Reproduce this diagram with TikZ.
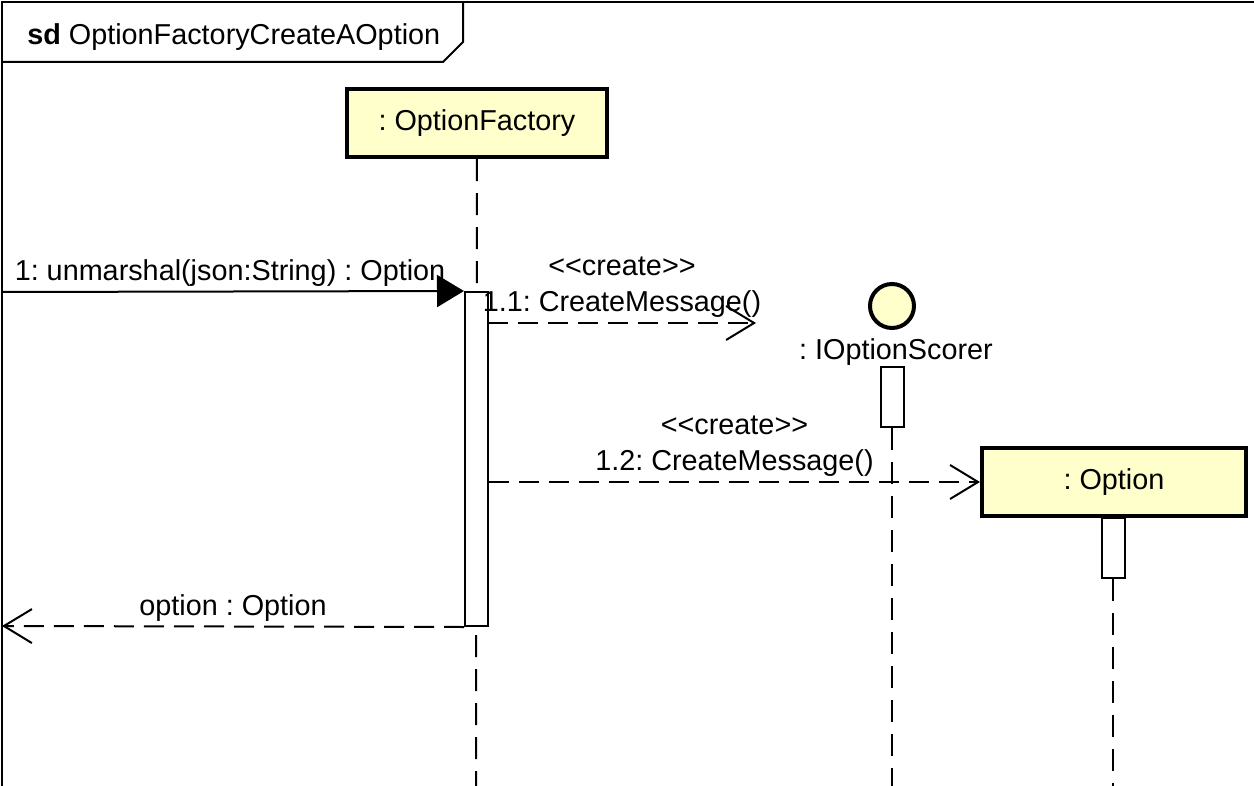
\documentclass[tikz,border=0pt]{standalone}
\usepackage{fontspec}
\setmainfont{Liberation Sans}
\usetikzlibrary{positioning,arrows.meta}
\definecolor{objfill}{RGB}{255,255,204}
\frenchspacing

\begin{document}
\begin{tikzpicture}[x=1bp,y=-1bp,line width=2bp,font=\fontsize{28.9}{34}\selectfont,
  obj/.style={draw,line width=4bp,fill=objfill,minimum width=260bp,minimum height=68bp},
  act/.style={draw,fill=white,minimum width=23bp,inner sep=0pt},
  life/.style={dash pattern=on 22bp off 12bp},
  call/.style={-{Triangle[length=27bp,width=32bp]}},
  reply/.style={dash pattern=on 20bp off 10bp,-{Straight Barb[length=28bp,width=34bp]}}]
  \useasboundingbox (0,0) rectangle (1254,786);
  % frame
  \draw (2,786) |- (1254,2);
  \draw (2,62) -- (443,62) -- (463,42) -- (463,2);
  \node[anchor=west] (ttl) at (23,37) {\textbf{sd} OptionFactoryCreateAOption};
  % lifelines
  \node[obj] (fac) at (477,123) {: OptionFactory};
  \node[circle,draw,line width=4bp,fill=objfill,minimum size=44bp,inner sep=0pt] (sc) at (892,306) {};
  \node (scl) at (896,352) {: IOptionScorer};
  \node[obj,minimum width=264bp] (opt) at (1114,482) {: Option};
  \coordinate (facend) at (476,786);
  \coordinate (scend) at (892,786);
  \coordinate (optend) at (1113,786);
  \draw[life] (fac) -- (facend);
  \node[act,minimum height=334bp] (a1) at (476.5,459) {};
  \node[act,minimum height=60bp] (a2) at (892,397) {};
  \node[act,minimum height=60bp] (a3) at (1113,548) {};
  \draw[life] (a2) -- (scend);
  \draw[life] (a3) -- (optend);
  % messages
  \coordinate (src) at (2,292);
  \coordinate (m11) at (488,323);
  \coordinate (m11e) at (756,323);
  \coordinate (ret) at (2,626);
  \draw[call] (src) -- (a1.north west) node[midway,above=1bp,xshift=-3bp] {1: unmarshal(json:String) : Option};
  \draw[reply] (m11) -- (m11e) node[midway,above=1bp] (l11) {1.1: CreateMessage()};
  \node[above=6bp of l11] {<\kern0pt<create>\kern0pt>};
  \draw[reply] (a1.east |- opt.west) -- (opt.west) node[midway,above=1bp] (l12) {1.2: CreateMessage()};
  \node[above=6bp of l12] {<\kern0pt<create>\kern0pt>};
  \draw[reply] (a1.south west) -- (ret) node[midway,above=1bp] {option : Option};
\end{tikzpicture}
\end{document}
